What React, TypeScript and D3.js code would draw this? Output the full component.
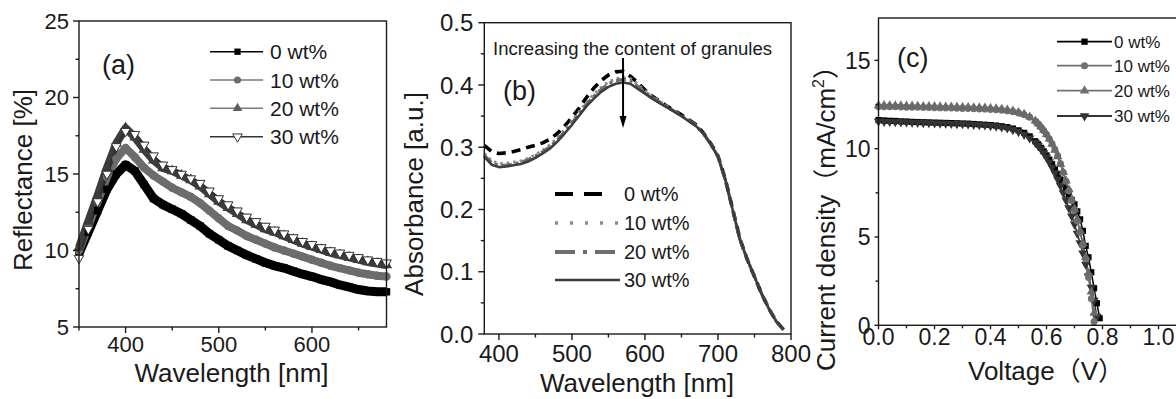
import React from 'react';
import * as d3 from 'd3';

const FONT = '"Liberation Sans", Arial, "Noto Sans CJK SC", sans-serif';

// ---------- Panel (a): reflectance ----------
const wavelengthsA = [350,360,370,380,390,400,410,420,430,440,450,460,470,480,490,500,510,520,530,540,550,560,570,580,590,600,610,620,630,640,650,660,670,680];
const refl0 = [9.8,11.2,12.6,14.0,15.0,15.6,15.2,14.3,13.4,13.0,12.7,12.4,12.0,11.6,11.1,10.7,10.3,10.0,9.7,9.45,9.2,9.0,8.85,8.65,8.45,8.3,8.1,7.95,7.75,7.6,7.45,7.35,7.3,7.3];
const refl10 = [10.0,11.6,13.2,14.8,16.0,16.7,16.1,15.4,14.9,14.5,14.1,13.8,13.5,13.1,12.6,12.1,11.6,11.3,10.95,10.7,10.45,10.2,10.0,9.8,9.6,9.4,9.2,9.0,8.85,8.7,8.55,8.45,8.35,8.3];
const refl20 = [10.2,11.9,13.6,15.4,17.0,18.0,17.4,16.6,15.9,15.4,15.2,14.9,14.6,14.2,13.7,13.2,12.8,12.4,12.0,11.7,11.4,11.2,10.95,10.7,10.45,10.25,10.05,9.85,9.7,9.55,9.4,9.25,9.15,9.05];
const refl30 = [9.5,11.4,13.2,15.0,16.8,17.8,17.6,16.9,16.2,15.6,15.3,15.0,14.7,14.4,13.9,13.4,13.0,12.6,12.2,11.9,11.6,11.35,11.1,10.85,10.6,10.4,10.2,10.0,9.85,9.7,9.55,9.4,9.3,9.2];
const xTicksA = [400,500,600];
const xMinorA = [350,450,550,650];
const yTicksA = [5,10,15,20,25];
const yMinorA = [7.5,12.5,17.5,22.5];

// ---------- Panel (b): absorbance ----------
const wavelengthsB = [380,390,400,410,420,430,440,450,460,470,480,490,500,510,520,530,540,550,560,570,580,590,600,610,620,630,640,650,660,670,680,690,700,710,720,730,740,750,760,770,780,790];
const absorb0 = [0.303,0.293,0.290,0.291,0.293,0.296,0.300,0.303,0.307,0.313,0.322,0.334,0.348,0.363,0.380,0.395,0.407,0.416,0.421,0.422,0.414,0.404,0.392,0.382,0.374,0.366,0.359,0.352,0.344,0.336,0.323,0.306,0.286,0.249,0.201,0.153,0.120,0.092,0.064,0.040,0.020,0.007];
const absorb10 = [0.290,0.278,0.274,0.274,0.276,0.278,0.282,0.288,0.295,0.304,0.315,0.328,0.342,0.357,0.372,0.385,0.396,0.405,0.410,0.412,0.410,0.401,0.391,0.382,0.374,0.366,0.358,0.351,0.343,0.335,0.322,0.305,0.285,0.248,0.200,0.152,0.120,0.092,0.064,0.040,0.020,0.007];
const absorb20 = [0.287,0.275,0.271,0.271,0.273,0.276,0.280,0.286,0.293,0.301,0.312,0.325,0.339,0.354,0.369,0.382,0.393,0.402,0.407,0.409,0.407,0.398,0.389,0.380,0.373,0.365,0.358,0.351,0.343,0.335,0.322,0.305,0.285,0.248,0.200,0.152,0.120,0.092,0.064,0.040,0.020,0.007];
const absorb30 = [0.285,0.272,0.268,0.269,0.271,0.273,0.277,0.283,0.290,0.298,0.309,0.322,0.336,0.351,0.366,0.378,0.389,0.397,0.402,0.404,0.402,0.394,0.386,0.378,0.371,0.364,0.357,0.350,0.342,0.334,0.322,0.305,0.285,0.248,0.200,0.152,0.120,0.092,0.064,0.040,0.020,0.007];
const xTicksB = [400,500,600,700,800];
const xMinorB = [450,550,650,750];
const yTicksB = [0,0.1,0.2,0.3,0.4,0.5];
const yMinorB = [0.05,0.15,0.25,0.35,0.45];
const arrowWavelength = 570;

// ---------- Panel (c): J-V ----------
const voltages = [0,0.02,0.04,0.06,0.08,0.10,0.12,0.14,0.16,0.18,0.20,0.22,0.24,0.26,0.28,0.30,0.32,0.34,0.36,0.38,0.40,0.42,0.44,0.46,0.48,0.50,0.52,0.54,0.56,0.57,0.58,0.59,0.60,0.61,0.62,0.63,0.64,0.65,0.66,0.67,0.68,0.69,0.70,0.71,0.72,0.73,0.74,0.75,0.76,0.77,0.78,0.79];
const jv0 = [11.62,11.60,11.58,11.57,11.55,11.54,11.52,11.51,11.50,11.49,11.48,11.47,11.46,11.45,11.44,11.43,11.42,11.40,11.38,11.36,11.34,11.31,11.27,11.22,11.14,11.04,10.90,10.70,10.42,10.25,10.05,9.85,9.62,9.38,9.12,8.84,8.55,8.25,8.0,7.7,7.4,7.1,6.85,6.45,6.0,5.35,4.5,3.85,3.0,2.1,1.25,0.4];
const jv10 = [12.38,12.38,12.37,12.37,12.36,12.35,12.35,12.34,12.33,12.33,12.32,12.31,12.30,12.30,12.29,12.28,12.27,12.26,12.25,12.24,12.22,12.20,12.18,12.14,12.09,12.02,11.92,11.78,11.55,11.40,11.22,11.02,10.80,10.55,10.27,9.95,9.60,9.15,8.65,8.15,7.6,7.05,6.5,5.9,5.25,4.55,3.75,2.7,1.5,0.2,null,null];
const jv20 = [12.45,12.45,12.44,12.44,12.43,12.42,12.42,12.41,12.40,12.40,12.39,12.38,12.37,12.37,12.36,12.35,12.34,12.33,12.32,12.31,12.29,12.27,12.24,12.20,12.14,12.06,11.95,11.80,11.58,11.42,11.25,11.05,10.82,10.56,10.27,9.93,9.55,9.12,8.66,8.18,7.68,7.15,6.6,6.0,5.35,4.65,3.85,2.95,1.9,0.7,null,null];
const jv30 = [11.55,11.54,11.53,11.52,11.51,11.50,11.49,11.48,11.47,11.46,11.45,11.44,11.43,11.42,11.41,11.40,11.39,11.37,11.35,11.33,11.30,11.27,11.22,11.16,11.07,10.96,10.80,10.60,10.35,10.18,9.98,9.76,9.52,9.24,8.94,8.62,8.27,7.90,7.50,7.08,6.64,6.18,5.72,5.2,4.66,4.08,3.45,2.8,2.15,1.4,0.5,null];
const xTicksC = [0,0.2,0.4,0.6,0.8,1.0];
const xMinorC = [0.1,0.3,0.5,0.7,0.9];
const yTicksC = [0,5,10,15];
const yMinorC = [2.5,7.5,12.5];

const seriesLabels = ['0 wt%', '10 wt%', '20 wt%', '30 wt%'];

type Sc = d3.ScaleLinear<number, number>;

const INK = '#1a1a1a';

function Axes(props: {
  xs: Sc; ys: Sc; xMajor: number[]; xMinor: number[]; yMajor: number[]; yMinor: number[];
  xFmt: (v: number) => string; yFmt: (v: number) => string; font: number; xLabDy: number; yGap: number;
  major?: number; minor?: number;
}) {
  const { xs, ys, xMajor, xMinor, yMajor, yMinor, xFmt, yFmt, font, xLabDy, yGap } = props;
  const M = props.major ?? 6;
  const m = props.minor ?? 3.5;
  const [x0, x1] = xs.range();
  const [y0, y1] = ys.range();
  const sw = 1.4;
  return (
    <g>
      <rect x={x0} y={y1} width={x1 - x0} height={y0 - y1} fill="none" stroke={INK} strokeWidth={sw} />
      {xMajor.map(t => <line key={'xM' + t} x1={xs(t)} x2={xs(t)} y1={y0} y2={y0 + M} stroke={INK} strokeWidth={sw} />)}
      {xMinor.map(t => <line key={'xm' + t} x1={xs(t)} x2={xs(t)} y1={y0} y2={y0 + m} stroke={INK} strokeWidth={sw} />)}
      {yMajor.map(t => <line key={'yM' + t} x1={x0 - M} x2={x0} y1={ys(t)} y2={ys(t)} stroke={INK} strokeWidth={sw} />)}
      {yMinor.map(t => <line key={'ym' + t} x1={x0 - m} x2={x0} y1={ys(t)} y2={ys(t)} stroke={INK} strokeWidth={sw} />)}
      {xMajor.map(t => (
        <text key={'xl' + t} x={xs(t)} y={y0 + xLabDy} textAnchor="middle" fontSize={font} fill={INK}>{xFmt(t)}</text>
      ))}
      {yMajor.map(t => (
        <text key={'yl' + t} x={x0 - yGap} y={ys(t)} dy="0.36em" textAnchor="end" fontSize={font} fill={INK}>{yFmt(t)}</text>
      ))}
    </g>
  );
}

function Marker({ kind, x, y, size, fill, stroke, sw }: { kind: string; x: number; y: number; size: number; fill: string; stroke?: string; sw?: number }) {
  const type = kind === 'square' ? d3.symbolSquare : kind === 'circle' ? d3.symbolCircle : d3.symbolTriangle;
  const rot = kind === 'down' ? 180 : 0;
  const p = d3.symbol().type(type).size(size)() || '';
  return <path d={p} transform={`translate(${x},${y}) rotate(${rot})`} fill={fill} stroke={stroke || 'none'} strokeWidth={sw || 0} />;
}

export default function App() {
  const xA = d3.scaleLinear().domain([350, 680]).range([79, 386.5]);
  const yA = d3.scaleLinear().domain([5, 25]).range([327, 21]);
  const xB = d3.scaleLinear().domain([380, 800]).range([484.3, 791]);
  const yB = d3.scaleLinear().domain([0, 0.5]).range([334, 22.7]);
  const xC = d3.scaleLinear().domain([0, 1.1]).range([878.5, 1186.5]);
  const yC = d3.scaleLinear().domain([0, 17.4]).range([325.3, 18]);

  const lineA = d3.line<[number, number]>().x(d => xA(d[0])).y(d => yA(d[1]));
  const lineB = d3.line<[number, number]>().x(d => xB(d[0])).y(d => yB(d[1]));
  const lineC = d3.line<[number, number | null]>().defined(d => d[1] != null).x(d => xC(d[0])).y(d => yC(d[1] as number));

  const zipA = (vals: number[]) => wavelengthsA.map((w, i) => [w, vals[i]] as [number, number]);
  const zipB = (vals: number[]) => wavelengthsB.map((w, i) => [w, vals[i]] as [number, number]);
  const zipC = (vals: (number | null)[]) => voltages.map((v, i) => [v, vals[i]] as [number, number | null]);

  const seriesA = [
    { vals: refl0, line: '#000', lw: 9, kind: 'square', fill: '#000', stroke: 'none', msw: 0 },
    { vals: refl10, line: '#6c6c6c', lw: 8, kind: 'circle', fill: '#6c6c6c', stroke: 'none', msw: 0 },
    { vals: refl20, line: '#3c3c3c', lw: 8, kind: 'up', fill: '#3c3c3c', stroke: 'none', msw: 0 },
    { vals: refl30, line: '#2e2e2e', lw: 2, kind: 'down', fill: '#fff', stroke: '#2e2e2e', msw: 1 },
  ];

  const seriesB = [
    { vals: absorb0, color: '#000', lw: 3.6, dash: '9,6' as string | undefined },
    { vals: absorb10, color: '#8a8a8a', lw: 3, dash: '2.5,4' },
    { vals: absorb20, color: '#6e6e6e', lw: 3.2, dash: '10,4,3,4' },
    { vals: absorb30, color: '#3d3d3d', lw: 2.6, dash: undefined },
  ];
  const legendB = [
    { color: '#000', lw: 4, dash: '18,11' as string | undefined },
    { color: '#8a8a8a', lw: 3.5, dash: '3,12' },
    { color: '#6e6e6e', lw: 4, dash: '20,8,4,8' },
    { color: '#3d3d3d', lw: 2.6, dash: undefined },
  ];

  const seriesC = [
    { vals: jv0, line: '#000', kind: 'square', fill: '#000' },
    { vals: jv30, line: '#333', kind: 'down', fill: '#333' },
    { vals: jv10, line: '#707070', kind: 'circle', fill: '#707070' },
    { vals: jv20, line: '#6a6a6a', kind: 'up', fill: '#6a6a6a' },
  ];
  const legendC = [
    { line: '#000', kind: 'square', fill: '#000' },
    { line: '#707070', kind: 'circle', fill: '#707070' },
    { line: '#707070', kind: 'up', fill: '#707070' },
    { line: '#333', kind: 'down', fill: '#333' },
  ];
  const legendA = [
    { line: '#000', kind: 'square', fill: '#000', stroke: 'none', sw: 0 },
    { line: '#7a7a7a', kind: 'circle', fill: '#6c6c6c', stroke: 'none', sw: 0 },
    { line: '#7a7a7a', kind: 'up', fill: '#5e5e5e', stroke: 'none', sw: 0 },
    { line: '#333', kind: 'down', fill: '#fff', stroke: '#333', sw: 1 },
  ];

  const legendRowsA = [51.7, 80, 108.3, 136.7];
  const legendRowsB = [194, 223, 252, 280];
  const legendRowsC = [41.7, 65.7, 90.7, 116];

  const arrowX = xB(arrowWavelength);

  return (
    <svg width={1176} height={399} style={{ position: 'absolute', left: 0, top: 0, background: '#fff' }} fontFamily={FONT}>
      <rect x={0} y={0} width={1176} height={399} fill="#fff" />

      {/* ---------- Panel (a) ---------- */}
      <g>
        {seriesA.map((s, i) => (
          <path key={'la' + i} d={lineA(zipA(s.vals)) || ''} fill="none" stroke={s.line} strokeWidth={s.lw} strokeLinejoin="round" />
        ))}
        {seriesA.map((s, i) => (
          <g key={'ma' + i}>
            {zipA(s.vals).map((d, j) => (
              <Marker key={j} kind={s.kind} x={xA(d[0])} y={yA(d[1])} size={i === 3 ? 40 : 55} fill={s.fill} stroke={s.stroke} sw={s.msw} />
            ))}
          </g>
        ))}
        <Axes xs={xA} ys={yA} xMajor={xTicksA} xMinor={xMinorA} yMajor={yTicksA} yMinor={yMinorA}
          xFmt={v => String(v)} yFmt={v => String(v)} font={22} xLabDy={25} yGap={10} />
        <text x={231.5} y={381.7} textAnchor="middle" fontSize={26} fill={INK}>Wavelength [nm]</text>
        <text transform="translate(32,180) rotate(-90)" textAnchor="middle" fontSize={26} fill={INK}>Reflectance [%]</text>
        <text x={102} y={74} fontSize={27} fill={INK}>(a)</text>
        {seriesLabels.map((lab, i) => (
          <g key={'lga' + i}>
            <line x1={210} x2={263} y1={legendRowsA[i]} y2={legendRowsA[i]} stroke={legendA[i].line} strokeWidth={1.5} />
            <Marker kind={legendA[i].kind} x={237.5} y={legendRowsA[i]} size={40} fill={legendA[i].fill} stroke={legendA[i].stroke} sw={legendA[i].sw} />
            <text x={270} y={legendRowsA[i]} dy="0.36em" fontSize={21} fill={INK}>{lab}</text>
          </g>
        ))}
      </g>

      {/* ---------- Panel (b) ---------- */}
      <g>
        {seriesB.map((s, i) => (
          <path key={'lb' + i} d={lineB(zipB(s.vals)) || ''} fill="none" stroke={s.color} strokeWidth={s.lw} strokeDasharray={s.dash} strokeLinejoin="round" />
        ))}
        <Axes xs={xB} ys={yB} xMajor={xTicksB} xMinor={xMinorB} yMajor={yTicksB} yMinor={yMinorB}
          xFmt={v => String(v)} yFmt={v => v.toFixed(1)} font={24} xLabDy={28} yGap={11} />
        <text x={637} y={392} textAnchor="middle" fontSize={26} fill={INK}>Wavelength [nm]</text>
        <text transform="translate(423,194) rotate(-90)" textAnchor="middle" fontSize={26} fill={INK}>Absorbance [a.u.]</text>
        <text x={503} y={100} fontSize={27} fill={INK}>(b)</text>
        <text x={493} y={55} fontSize={18} fill={INK} textLength={279} lengthAdjust="spacingAndGlyphs">Increasing the content of granules</text>
        <line x1={arrowX} x2={arrowX} y1={58} y2={118} stroke="#000" strokeWidth={2} />
        <path d={`M${arrowX - 3.5},${116} L${arrowX + 3.5},${116} L${arrowX},${128} Z`} fill="#000" />
        {seriesLabels.map((lab, i) => (
          <g key={'lgb' + i}>
            <line x1={555} x2={i === 0 ? 604 : 620} y1={legendRowsB[i]} y2={legendRowsB[i]} stroke={legendB[i].color} strokeWidth={legendB[i].lw} strokeDasharray={legendB[i].dash} />
            <text x={624} y={legendRowsB[i]} dy="0.36em" fontSize={20} fill={INK}>{lab}</text>
          </g>
        ))}
      </g>

      {/* ---------- Panel (c) ---------- */}
      <g>
        {seriesC.map((s, i) => (
          <path key={'lc' + i} d={lineC(zipC(s.vals)) || ''} fill="none" stroke={s.line} strokeWidth={1.5} />
        ))}
        {seriesC.map((s, i) => (
          <g key={'mc' + i}>
            {zipC(s.vals).filter(d => d[1] != null).map((d, j) => (
              <Marker key={j} kind={s.kind} x={xC(d[0])} y={yC(d[1] as number)} size={38} fill={s.fill} />
            ))}
          </g>
        ))}
        <Axes xs={xC} ys={yC} xMajor={xTicksC} xMinor={xMinorC} yMajor={yTicksC} yMinor={yMinorC}
          xFmt={v => v.toFixed(1)} yFmt={v => String(v)} font={23} xLabDy={20} yGap={8} major={4} minor={3} />
        <text x={968} y={380} fontSize={26} fill={INK}>Voltage（V）</text>
        <text transform="translate(835,212) rotate(-90)" textAnchor="middle" fontSize={26} fill={INK}>
          Current density（mA/cm<tspan dy={-11} fontSize={16}>2</tspan><tspan dy={11}>）</tspan>
        </text>
        <text x={897} y={66.7} fontSize={27} fill={INK}>(c)</text>
        {seriesLabels.map((lab, i) => (
          <g key={'lgc' + i}>
            <line x1={1057} x2={1112} y1={legendRowsC[i]} y2={legendRowsC[i]} stroke={legendC[i].line} strokeWidth={1.8} />
            <Marker kind={legendC[i].kind} x={1084.5} y={legendRowsC[i]} size={40} fill={legendC[i].fill} />
            <text x={1114} y={legendRowsC[i]} dy="0.36em" fontSize={17} fill={INK}>{lab}</text>
          </g>
        ))}
      </g>
    </svg>
  );
}
